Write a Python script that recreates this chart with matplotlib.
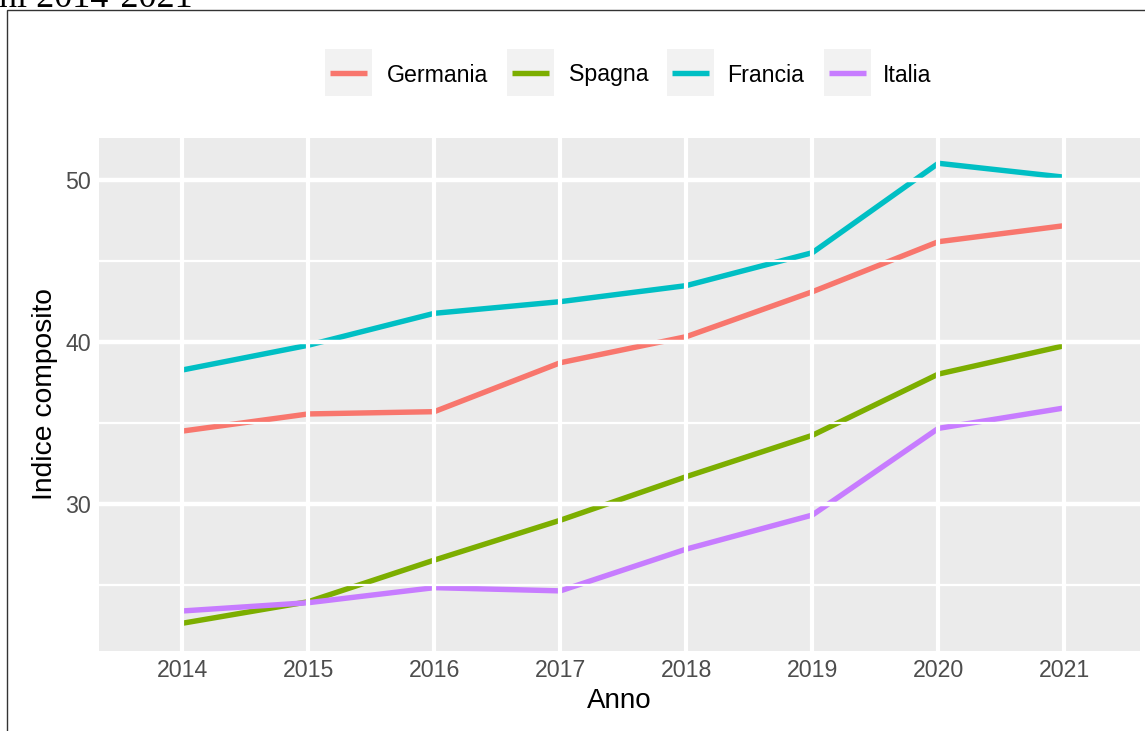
import matplotlib
matplotlib.use("Agg")
import matplotlib.pyplot as plt
from matplotlib.patches import Rectangle
from matplotlib.lines import Line2D

years = [2014, 2015, 2016, 2017, 2018, 2019, 2020, 2021]
series_names = ["Germania", "Spagna", "Francia", "Italia"]
germania = [34.5, 35.56, 35.7, 38.72, 40.33, 43.1, 46.19, 47.18]
spagna = [22.64, 23.97, 26.54, 29.0, 31.69, 34.24, 38.02, 39.77]
francia = [38.27, 39.8, 41.77, 42.49, 43.48, 45.51, 51.03, 50.17]
italia = [23.4, 23.91, 24.84, 24.64, 27.22, 29.32, 34.67, 35.93]
series_values = [germania, spagna, francia, italia]
colors = ["#F8766D", "#7CAE00", "#00BFC4", "#C77CFF"]
yticks = [30, 40, 50]
yminor = [25, 35, 45]

W, H = 1145, 731
fig = plt.figure(figsize=(W / 100, H / 100), dpi=100)
fig.patch.set_facecolor("white")

def fx(px):
    return px / W

def fy(py):
    return 1 - py / H

# outer frame
fig.patches.append(Rectangle((fx(7), fy(745)), fx(1160), fy(10.5) - fy(745),
                             transform=fig.transFigure, fill=False,
                             edgecolor="#333333", linewidth=1.0, clip_on=False))

# cut-off title (as in the reference)
fig.text(fx(193), fy(7), "ni 2014-2021", ha="right", va="baseline",
         fontsize=26, family="Liberation Serif", color="black")

ax = fig.add_axes([fx(99), fy(651), fx(1140) - fx(99), fy(138) - fy(651)])
ax.set_facecolor("#EBEBEB")
for s in ax.spines.values():
    s.set_visible(False)

lines = []
for name, vals, c in zip(series_names, series_values, colors):
    ln, = ax.plot(years, vals, color=c, linewidth=3.9, label=name,
                  solid_capstyle="butt", zorder=2)
    lines.append(ln)

ax.set_xlim(2013.34, 2021.6)
ax.set_ylim(20.93, 52.59)
ax.set_xticks(years)
ax.set_xticklabels([str(y) for y in years])
ax.set_yticks(yticks)
ax.set_yticks(yminor, minor=True)

# grid on top of lines (as in reference)
for y in yticks:
    ax.axhline(y, color="white", linewidth=3.2, zorder=3)
for y in yminor:
    ax.axhline(y, color="white", linewidth=1.6, zorder=3)
for x in years:
    ax.axvline(x, color="white", linewidth=3.0, zorder=3)

ax.tick_params(axis="both", which="both", length=0, labelsize=16.7,
               labelcolor="#4D4D4D", labelfontfamily="Liberation Sans")
ax.tick_params(axis="x", pad=6)
ax.tick_params(axis="y", pad=6)

ax.set_xlabel("Anno", fontsize=20, family="Liberation Sans", color="black",
              labelpad=4)
ax.set_ylabel("Indice composito", fontsize=20.3, family="Liberation Sans",
              color="black", labelpad=5)

# legend drawn manually with grey key boxes
key_left = [325, 507, 667, 824]
text_left = [387, 569, 727, 883]
key_top, key_bot = 49, 96
for ln, kx, tx in zip(lines, key_left, text_left):
    fig.patches.append(Rectangle((fx(kx), fy(key_bot)), fx(47), fy(key_top) - fy(key_bot),
                                 transform=fig.transFigure, facecolor="#F2F2F2",
                                 edgecolor="none"))
    yc = fy((key_top + key_bot) / 2)
    fig.lines.append(Line2D([fx(kx + 5), fx(kx + 42)], [yc, yc],
                            transform=fig.transFigure, color=ln.get_color(),
                            linewidth=3.9, solid_capstyle="butt"))
    fig.text(fx(tx), yc, ln.get_label(), ha="left", va="center_baseline",
             fontsize=16.7, family="Liberation Sans", color="black")

fig.savefig("out.png", dpi=100)
